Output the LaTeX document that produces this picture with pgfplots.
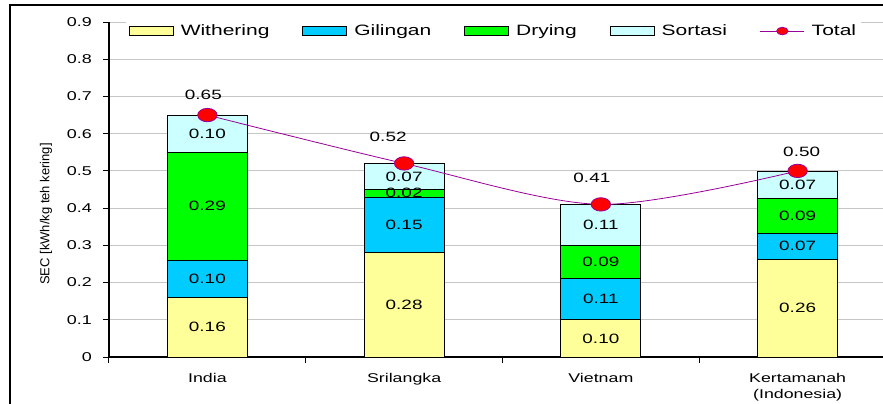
\documentclass[border=0pt]{standalone}
\usepackage{fontspec}
\setmainfont{Liberation Sans}[FakeStretch=1.4]
\newfontfamily\ylabfont{Liberation Sans}
\usepackage{pgfplots}
\usepackage{pgfplotstable}
\pgfplotsset{compat=1.18}
\definecolor{Wither}{HTML}{FFFF99}
\definecolor{Giling}{HTML}{00CCFF}
\definecolor{Dry}{HTML}{00FF00}
\definecolor{Sort}{HTML}{CCFFFF}
\definecolor{TotLine}{HTML}{990099}

% segments per country: Withering, Gilingan, Drying, Sortasi
\pgfplotstableread{
x W G D S
0 0.16 0.10 0.29 0.10
1 0.28 0.15 0.02 0.07
2 0.10 0.11 0.09 0.11
3 0.263 0.07 0.092 0.074
}\segs
% totals, with label offsets (pt)
\pgfplotstableread{
x y dx dy
0 0.65 -4 20
1 0.52 -16 27
2 0.41 -9 27
3 0.50 4 19
}\tot

\pgfplotsset{
  base/.style={scale only axis, width=787pt, height=335pt,
    xmin=-0.5, xmax=3.5, ymin=0, ymax=0.9},
  seg/.style={fill=#1, draw=black, line width=0.8pt},
  barlegend/.style={legend image code/.code={%
    \draw[##1, line width=0.8pt] (0pt,-4.5pt) rectangle (44pt,4.5pt);}},
  linelegend/.style={legend image code/.code={%
    \draw[##1, sharp plot, mark repeat=2, mark phase=2]
      plot coordinates {(0pt,0pt) (22pt,0pt) (44pt,0pt)};}},
}

\begin{document}
\begin{tikzpicture}
\begin{axis}[base,
  ybar stacked, bar width=80pt,
  axis x line*=bottom, axis y line*=left,
  axis line style={line width=1.2pt, -},
  tick align=outside, major tick length=6pt,
  tick style={black, line width=1pt},
  ytick={0,0.1,0.2,0.3,0.4,0.5,0.6,0.7,0.8,0.9},
  yticklabel style={font=\fontsize{12.8}{15}\selectfont, inner sep=0pt, xshift=-11pt,
    /pgf/number format/.cd, fixed, precision=1, assume math mode=true},
  ymajorgrids, grid style={draw=gray!45, line width=0.8pt},
  xtick={-0.5,0.5,1.5,2.5,3.5}, xticklabels={},
  extra x ticks={0,1,2,3},
  extra x tick labels={India,Srilangka,Vietnam,{Kertamanah\\(Indonesia)}},
  extra x tick style={major tick length=0pt, grid=none,
    xticklabel style={font=\fontsize{12.7}{16}\selectfont, align=center,
      inner sep=0pt, anchor=north, yshift=-16pt}},
  ylabel={\ylabfont\fontsize{13}{15}\selectfont SEC [kWh/kg teh kering]},
  ylabel style={at={(rel axis cs:-0.08,0.427)}, anchor=center},
  nodes near coords, point meta=explicit,
  nodes near coords style={font=\fontsize{13.5}{15}\selectfont, anchor=center,
    /pgf/number format/.cd, fixed, fixed zerofill,
    precision=2, assume math mode=true},
  barlegend,
  legend style={at={(rel axis cs:0.4886,0.973)}, anchor=center, draw=none,
    fill=white, font=\fontsize{15}{18}\selectfont, legend columns=5,
    /tikz/every odd column/.append style={column sep=5pt},
    /tikz/every even column/.append style={column sep=31pt}},
]
\addplot[seg=Wither] table[x=x, y=W, meta=W] {\segs};
\addlegendentry{Withering}
\addplot[seg=Giling] table[x=x, y=G, meta=G] {\segs};
\addlegendentry{Gilingan}
\addplot[seg=Dry] table[x=x, y=D, meta=D] {\segs};
\addlegendentry{Drying}
\addplot[seg=Sort] table[x=x, y=S, meta=S] {\segs};
\addlegendentry{Sortasi}
\addlegendimage{TotLine, line width=0.8pt, mark=*, mark size=3.8pt,
  mark options={xscale=1.5, fill=red, draw=TotLine}, linelegend}
\addlegendentry{Total}
\coordinate (O) at (rel axis cs:0,0);
\end{axis}

\begin{axis}[base, hide axis]
\addplot[TotLine, line width=0.8pt, smooth, tension=0.5,
  mark=*, mark size=6.7pt,
  mark options={xscale=1.45, fill=red, draw=TotLine, line width=0.8pt},
  nodes near coords, point meta=explicit,
  visualization depends on={\thisrow{dx}\as\dx},
  visualization depends on={\thisrow{dy}\as\dy},
  nodes near coords style={font=\fontsize{13.5}{15}\selectfont, black,
    anchor=center, xshift=\dx, yshift=\dy,
    /pgf/number format/.cd, fixed, fixed zerofill, precision=2,
    assume math mode=true}]
  table[x=x, y=y, meta=y] {\tot};
\end{axis}

\draw[line width=1.5pt] ([shift={(-99pt,-80pt)}]O) |- ([shift={(820pt,352pt)}]O);
\pgfresetboundingbox
\useasboundingbox ([shift={(-109pt,-47pt)}]O) rectangle ([shift={(774pt,357pt)}]O);
\end{tikzpicture}
\end{document}
